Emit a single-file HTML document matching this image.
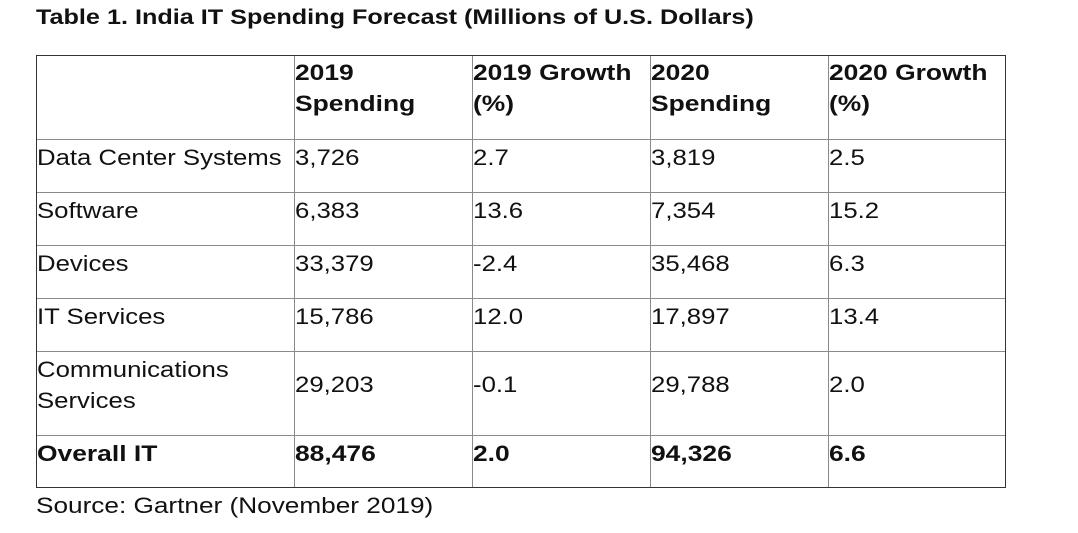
<!DOCTYPE html>
<html><head><meta charset="utf-8"><style>
body{margin:0;width:1078px;height:533px;background:#fff;position:relative;overflow:hidden;font-family:"Liberation Sans",sans-serif;color:#111}
.t{position:absolute;left:36px;top:6px;font-size:21px;font-weight:bold;white-space:nowrap;transform:scaleX(1.2);transform-origin:0 0}
.tbl{position:absolute;left:36px;top:55px;width:970px;height:433px;border:1px solid #333;box-sizing:border-box}
.v{position:absolute;top:0;bottom:0;width:1px;background:#8a8a8a}
.h{position:absolute;left:0;right:0;height:1px;background:#8a8a8a}
.c{position:absolute;font-size:22px;line-height:31px;white-space:nowrap;transform:scaleX(1.17);transform-origin:0 0}
.b{font-weight:bold;transform:scaleX(1.2)}
.s{position:absolute;left:36px;top:490px;font-size:22px;line-height:31px;white-space:nowrap;transform:scaleX(1.19);transform-origin:0 0}
</style></head><body>
<div class="t">Table 1. India IT Spending Forecast (Millions of U.S. Dollars)</div>
<div class="tbl">
<div class="v" style="left:257px"></div><div class="v" style="left:435px"></div><div class="v" style="left:613px"></div><div class="v" style="left:791px"></div>
<div class="h" style="top:83px"></div><div class="h" style="top:136px"></div><div class="h" style="top:189px"></div><div class="h" style="top:242px"></div><div class="h" style="top:295px"></div><div class="h" style="top:379px"></div>
</div>
<div id="cells"></div>
<div class="s">Source: Gartner (November 2019)</div>
<script>
const cols=[37,295,473,651,829];
const header=["","2019<br>Spending","2019 Growth<br>(%)","2020<br>Spending","2020 Growth<br>(%)"];
const rows=[
["Data Center Systems","3,726","2.7","3,819","2.5"],
["Software","6,383","13.6","7,354","15.2"],
["Devices","33,379","-2.4","35,468","6.3"],
["IT Services","15,786","12.0","17,897","13.4"],
["Communications<br>Services","29,203","-0.1","29,788","2.0"],
["Overall IT","88,476","2.0","94,326","6.6"]];
const rowTops=[142,195,248,301,354,438];
const root=document.getElementById('cells');
function cell(html,x,y,bold,name){const d=document.createElement('div');d.className='c'+(bold?' b':'');d.style.left=x+'px';d.style.top=y+'px';d.innerHTML=html;


root.appendChild(d);}
header.forEach((h,i)=>{if(h)cell(h,cols[i],57,true,'header-cell');});
rows.forEach((r,ri)=>{r.forEach((v,ci)=>{let y=rowTops[ri];if(ri===4&&ci>0)y+=15;cell(v,cols[ci],y,ri===5,'table-cell');});});
</script>
</body></html>
